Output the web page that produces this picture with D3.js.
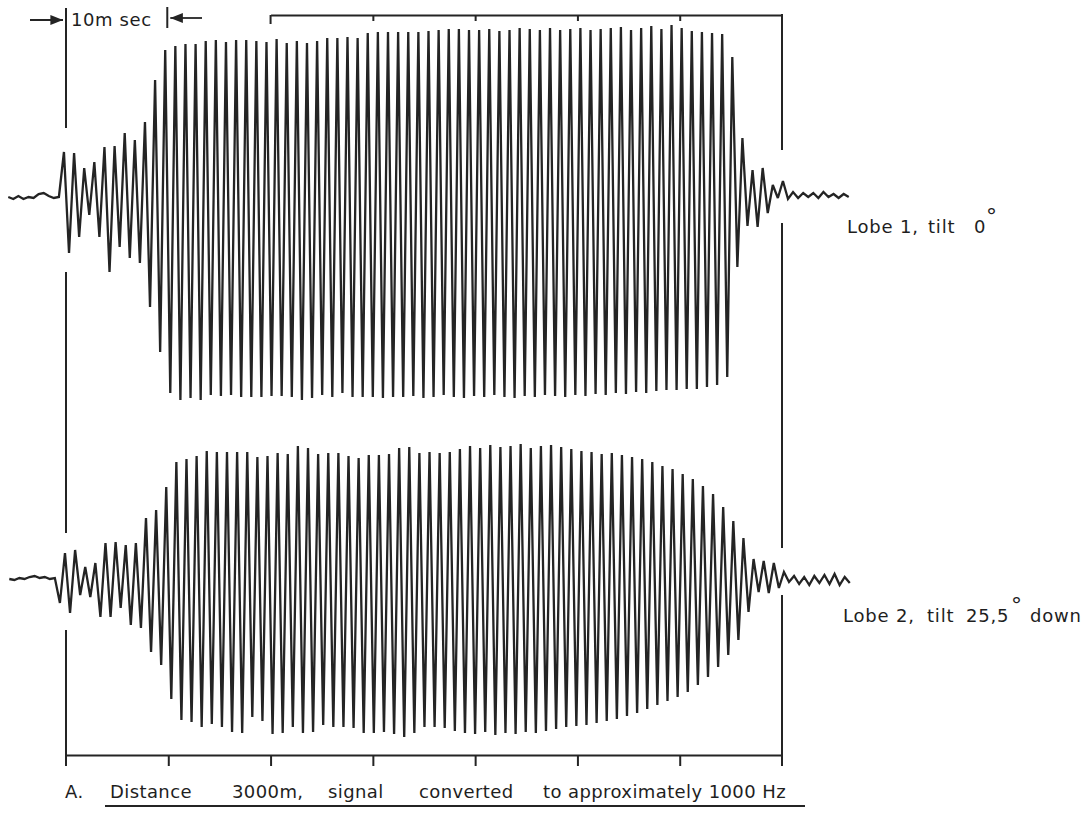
<!DOCTYPE html>
<html>
<head>
<meta charset="utf-8">
<script src="https://cdn.jsdelivr.net/npm/d3@7"></script>
<style>
  body { margin: 0; background: #fff; }
  text { font-family: "DejaVu Sans", "Liberation Sans", sans-serif; fill: #1e1e1e; }
</style>
</head>
<body>
<svg id="chart" width="1092" height="817"></svg>
<script>
// ---- Time base (ms) ----
const timeTicks = [10, 20, 30, 40, 50, 60];
const timeSpan = [0, 70];
const topMarkTicks = [30, 40, 50, 60];
const topMarkSpan = [20, 70];
const halfPeriodMs = 0.495;           // half cycle of the ~1000 Hz carrier

// ---- Lobe 1, tilt 0° (deflection, arbitrary units) ----
const lobe1FirstPeakMs = -0.2;
const lobe1Lead = [0, -2, 1, -2, 0, -1, 3, 4, 1, -1, 0];
const lobe1Peaks = [
  45, 44, 29, 35, 50, 51, 64, 57, 75, 117,
  147, 151, 153, 153, 156, 157, 155, 157, 157, 156,
  155, 158, 154, 156, 154, 156, 159, 159, 160, 159,
  164, 165, 165, 165, 165, 165, 166, 167, 168, 168,
  167, 167, 168, 166, 167, 169, 168, 167, 169, 167,
  168, 169, 167, 168, 169, 170, 167, 169, 171, 168,
  172, 169, 166, 165, 164, 163, 140,
  59, 27, 29, 12, 16
];
const lobe1Troughs = [
  -56, -40, -18, -40, -75, -50, -61, -66, -110, -155,
  -196, -203, -201, -203, -198, -199, -198, -200, -200, -200,
  -199, -199, -200, -203, -201, -198, -200, -196, -200, -200,
  -200, -201, -200, -200, -199, -201, -200, -198, -200, -201,
  -199, -200, -198, -200, -201, -199, -200, -198, -199, -200,
  -198, -199, -197, -198, -196, -197, -195, -196, -194, -193,
  -193, -192, -192, -190, -188, -180, -70,
  -29, -30, -16, -1, -2
];
const lobe1Tail = [5, -1, 4, 0, 4, -1, 5, 0, 3, -1, 3, 0];

// ---- Lobe 2, tilt 25,5° down ----
const lobe2FirstPeakMs = -0.1;
const lobe2Lead = [0, -1, 1, 0, 2, 3, 1, 2, 0, 1, -24];
const lobe2Peaks = [
  26, 29, 12, 16, 36, 37, 34, 36, 61, 69,
  92, 117, 120, 123, 128, 127, 127, 127, 127, 122,
  123, 126, 125, 133, 131, 125, 126, 126, 123, 121,
  124, 124, 125, 131, 132, 126, 127, 126, 127,
  130, 133, 131, 134, 132, 133, 135, 131, 133, 134, 132,
  130, 128, 127, 125, 126, 124, 122, 120, 117, 113,
  110, 105, 100, 93, 85, 72, 58,
  41, 20, 18, 16, 7
];
const lobe2Troughs = [
  -34, -16, -18, -38, -38, -29, -46, -49, -73, -86,
  -120, -141, -143, -148, -145, -148, -153, -154, -138, -142,
  -155, -154, -148, -154, -153, -146, -148, -148, -149, -154,
  -154, -153, -155, -158, -154, -148, -148, -149,
  -152, -154, -155, -153, -156, -154, -155, -153, -154, -152, -150, -148,
  -147, -146, -144, -142, -140, -137, -134, -130, -126, -122,
  -118, -113, -106, -98, -88, -76, -61,
  -33, -13, -14, -9, -3
];
const lobe2Tail = [3, -5, 2, -6, 3, -4, 4, -5, 5, -6, 2, -4];

// ---- Text ----
const lobe1LabelWords = ["Lobe 1,", "tilt", "0", "°"];
const lobe2LabelWords = ["Lobe 2,", "tilt", "25,5", "°", "down"];
const captionWords = ["A.", "Distance", "3000m,", "signal", "converted", "to approximately 1000 Hz"];
const markerLabel = "10m sec";

// ================= drawing =================
const svg = d3.select("#chart");
const ink = "#242424";

const x = d3.scaleLinear().domain(timeSpan).range([66, 782]);

const lobes = [
  { baseline: 197, first: lobe1FirstPeakMs, lead: lobe1Lead, peaks: lobe1Peaks, troughs: lobe1Troughs, tail: lobe1Tail },
  { baseline: 579, first: lobe2FirstPeakMs, lead: lobe2Lead, peaks: lobe2Peaks, troughs: lobe2Troughs, tail: lobe2Tail }
];

// assemble the alternating extremes of one trace on a uniform half-cycle grid
function trace(l) {
  const pts = [];
  l.lead.forEach((v, i) => pts.push([l.first - (l.lead.length - i) * halfPeriodMs, v]));
  l.peaks.forEach((p, j) => {
    pts.push([l.first + 2 * j * halfPeriodMs, p]);
    pts.push([l.first + (2 * j + 1) * halfPeriodMs, l.troughs[j]]);
  });
  const n = l.peaks.length * 2;
  l.tail.forEach((v, i) => pts.push([l.first + (n + i) * halfPeriodMs, v]));
  return pts;
}

lobes.forEach(l => {
  l.y = d3.scaleLinear().domain([-200, 200]).range([l.baseline + 200, l.baseline - 200]);
  const line = d3.line().x(d => x(d[0])).y(d => l.y(d[1])).curve(d3.curveLinear);
  svg.append("path")
    .datum(trace(l))
    .attr("d", line)
    .attr("fill", "none")
    .attr("stroke", ink)
    .attr("stroke-width", 2.3)
    .attr("stroke-linejoin", "miter")
    .attr("stroke-miterlimit", 3);
});

// frame verticals at 0 ms and 70 ms, interrupted where the traces cross
const frameLines = [
  { t: 0, segs: [[8, 128], [272, 533], [630, 766]] },
  { t: 70, segs: [[14, 150], [223, 548], [595, 766]] }
];
frameLines.forEach(f => f.segs.forEach(s => {
  svg.append("line")
    .attr("x1", x(f.t)).attr("x2", x(f.t))
    .attr("y1", s[0]).attr("y2", s[1])
    .attr("stroke", ink).attr("stroke-width", 2);
}));

// bottom time scale
const axisY = 755;
const axis = d3.axisBottom(x).tickValues(timeTicks).tickSize(11).tickSizeOuter(0).tickFormat("");
const gAxis = svg.append("g").attr("transform", `translate(0,${axisY})`).call(axis);
gAxis.select(".domain").attr("stroke", ink).attr("stroke-width", 2);
gAxis.selectAll(".tick line").attr("stroke", ink).attr("stroke-width", 2);

// top time mark
const topY = 15;
const topAxis = d3.axisBottom(d3.scaleLinear().domain(topMarkSpan).range([x(topMarkSpan[0]), x(topMarkSpan[1])]))
  .tickValues(topMarkTicks).tickSize(6).tickSizeOuter(0).tickFormat("");
const gTop = svg.append("g").attr("transform", `translate(0,${topY})`).call(topAxis);
gTop.select(".domain").attr("stroke", ink).attr("stroke-width", 1.8);
gTop.selectAll(".tick line").attr("stroke", ink).attr("stroke-width", 2);
svg.append("line").attr("x1", x(topMarkSpan[0])).attr("x2", x(topMarkSpan[0]))
  .attr("y1", topY).attr("y2", topY + 9).attr("stroke", ink).attr("stroke-width", 2);

// 10 ms marker
const defs = svg.append("defs");
defs.append("marker").attr("id", "arr").attr("viewBox", "0 0 10 10").attr("refX", 10).attr("refY", 5)
  .attr("markerWidth", 9).attr("markerHeight", 7).attr("orient", "auto")
  .append("path").attr("d", "M0,1 L10,5 L0,9 Z").attr("fill", ink);
svg.append("line").attr("x1", 30).attr("x2", x(0) - 3).attr("y1", 20).attr("y2", 20)
  .attr("stroke", ink).attr("stroke-width", 1.8).attr("marker-end", "url(#arr)");
svg.append("line").attr("x1", x(10) - 1).attr("x2", x(10) - 1).attr("y1", 7).attr("y2", 28)
  .attr("stroke", ink).attr("stroke-width", 2);
svg.append("line").attr("x1", 202).attr("x2", x(10) + 2).attr("y1", 18).attr("y2", 18)
  .attr("stroke", ink).attr("stroke-width", 1.8).attr("marker-end", "url(#arr)");
svg.append("text").attr("x", 71).attr("y", 26).attr("font-size", 18).attr("letter-spacing", 0.6).text(markerLabel);

// lobe labels, word by word (the degree ring raised as a superscript)
function label(words, xs, baseY) {
  const t = svg.append("text").attr("y", baseY).attr("font-size", 18).attr("letter-spacing", 0.8);
  words.forEach((w, i) => t.append("tspan").attr("x", xs[i])
    .attr("y", w === "°" ? baseY - 9 : baseY)
    .attr("font-size", w === "°" ? 22 : 18).text(w));
}
label(lobe1LabelWords, [847, 928, 974, 986], 233);
label(lobe2LabelWords, [843, 927, 966, 1011, 1030], 622);

// caption
const captionX = [65, 110, 232, 328, 419, 543];
const capText = svg.append("text").attr("y", 798).attr("font-size", 18).attr("letter-spacing", 0.4);
captionWords.forEach((w, i) => capText.append("tspan").attr("x", captionX[i]).text(w));
svg.append("line").attr("x1", 105).attr("x2", 805).attr("y1", 806).attr("y2", 806)
  .attr("stroke", ink).attr("stroke-width", 2);
</script>
</body>
</html>
